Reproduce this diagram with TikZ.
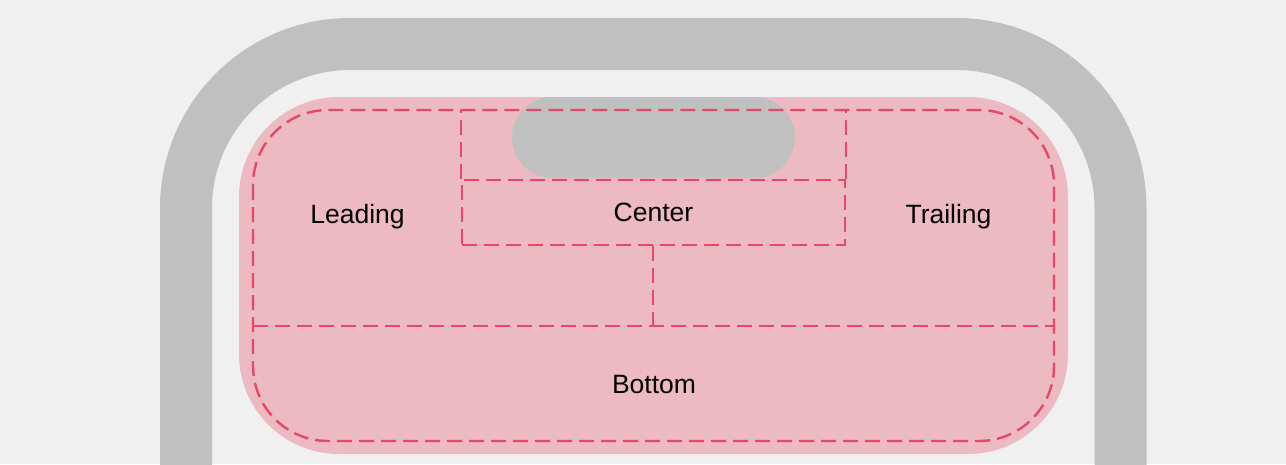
\documentclass[tikz,border=0pt]{standalone}
\usepackage{fontspec}
\setmainfont{Liberation Sans}

\definecolor{bgcol}{RGB}{240,240,240}
\definecolor{framecol}{RGB}{192,192,192}
\definecolor{safecol}{RGB}{237,185,194}
\definecolor{zonecol}{RGB}{229,72,104}

\tikzset{
  zone/.style={draw=zonecol, line width=2.4pt, dash pattern=on 15pt off 7pt},
  label/.style={font=\fontsize{26.5}{30}\selectfont, anchor=base, inner sep=0pt}
}

\begin{document}
\begin{tikzpicture}[x=1pt,y=-1pt]

% canvas
\useasboundingbox (0,0) rectangle (1286,464);
\clip (0,0) rectangle (1286,464);
\fill[bgcol] (0,0) rectangle (1286,464);

% positions
\def\xl{253}
\def\xr{1054}
\def\yt{110}
\def\yb{441}
\def\ysplit{326}

% device frame
\draw[framecol, line width=52pt, rounded corners=164]
  (186,520) -- (186,44) -- (1120.5,44) -- (1120.5,520);

% safe area
\fill[safecol, rounded corners=100] (239,97) rectangle (1068,454);

% island
\fill[framecol, rounded corners=40.5] (512,97) rectangle (795,178);

% outer zone
\draw[zone, rounded corners=75] (\xl,\yt) rectangle (\xr,\yb);

% center zone
\node[zone, minimum width=383, minimum height=65, inner sep=0pt] (center) at (653.5,212.5) {};
\coordinate (split) at (\xl,\ysplit);
\coordinate (stem) at ([xshift=-0.5pt]center.south);
\draw[zone] (center.north west) -- (center.north west |- 0,\yt);
\draw[zone] (center.north east) -- (center.north east |- 0,\yt);
\draw[zone] (stem) -- (stem |- split);
\draw[zone] (split) -- (\xr,\ysplit);

% labels
\node[label] (leadtxt)  at (357.5,223) {Leading};
\node[label] (centtxt)  at (653.5,221) {Center};
\node[label] (trailtxt) at (948.5,223) {Trailing};
\node[label] (bottxt)   at (654,393)   {Bottom};

\end{tikzpicture}
\end{document}
